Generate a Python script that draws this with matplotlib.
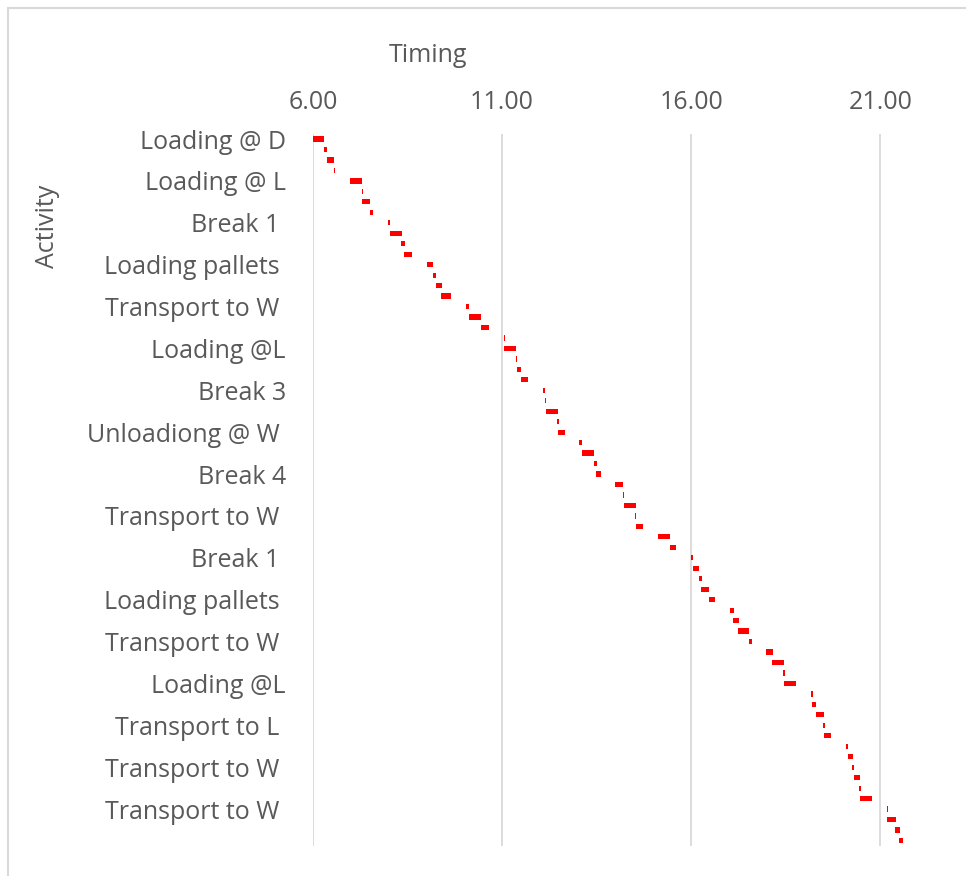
import matplotlib
matplotlib.use("Agg")
import matplotlib.pyplot as plt
from matplotlib.patches import Rectangle

# Start times (hours) and durations (hours) of each activity, top to bottom
starts = [6.01, 6.29, 6.37, 6.56, 6.99, 7.29, 7.31, 7.52, 7.99, 8.04,
          8.34, 8.42, 9.02, 9.17, 9.25, 9.39, 10.05, 10.13, 10.44, 11.04,
          11.06, 11.36, 11.40, 11.49, 12.09, 12.14, 12.16, 12.46, 12.49, 13.04,
          13.12, 13.43, 13.49, 13.99, 14.20, 14.22, 14.51, 14.53, 15.13, 15.43,
          15.99, 16.05, 16.20, 16.27, 16.47, 17.03, 17.10, 17.24, 17.52, 17.99,
          18.14, 18.43, 18.46, 19.17, 19.19, 19.30, 19.49, 19.51, 20.09, 20.14,
          20.26, 20.30, 20.44, 20.46, 21.18, 21.19, 21.39, 21.50]
durations = [0.28, 0.07, 0.20, 0.03, 0.31, 0.03, 0.21, 0.07, 0.06, 0.31,
             0.09, 0.21, 0.16, 0.09, 0.15, 0.27, 0.09, 0.31, 0.21, 0.035,
             0.30, 0.035, 0.11, 0.20, 0.05, 0.035, 0.31, 0.045, 0.17, 0.08,
             0.31, 0.07, 0.12, 0.22, 0.03, 0.31, 0.03, 0.20, 0.31, 0.17,
             0.06, 0.16, 0.09, 0.21, 0.17, 0.09, 0.16, 0.29, 0.09, 0.17,
             0.31, 0.045, 0.31, 0.045, 0.11, 0.20, 0.045, 0.19, 0.06, 0.13,
             0.045, 0.17, 0.045, 0.32, 0.03, 0.22, 0.12, 0.11]

# Labels shown on the category axis (every 4th activity)
shown_labels = ["Loading @ D", "Loading @ L", "Break 1 ", "Loading pallets ",
                "Transport to W ", "Loading @L", "Break 3", "Unloadiong @ W ",
                "Break 4", "Transport to W ", "Break 1 ", "Loading pallets ",
                "Transport to W ", "Loading @L", "Transport to L ",
                "Transport to W ", "Transport to W "]
label_step = 4

x_ticks = [6, 11, 16, 21]

W, H = 966, 876
fig = plt.figure(figsize=(W / 100, H / 100), dpi=100)
fig.patch.set_facecolor("white")
fig.patches.append(Rectangle((7.5 / W, -0.05), 1.2, 1 - 8.5 / H + 0.05,
                             transform=fig.transFigure, fill=False,
                             edgecolor="#d9d9d9", linewidth=1.5))

px_l, px_r, px_t, px_b = 312.9, 937.0, 133.8, 845.7
ax = fig.add_axes([px_l / W, 1 - px_b / H, (px_r - px_l) / W, (px_b - px_t) / H])

font = ["Open Sans", "DejaVu Sans"]
txt = "#595959"
fs = 18

ypos = list(range(len(starts)))
ax.barh(ypos, durations, left=starts, height=0.5, color="#ff0000", zorder=3)

ax.set_ylim(len(starts) - 0.5, -0.5)
ax.set_xlim(6, 22.5)

ax.set_xticks(x_ticks)
ax.set_xticklabels([f"{v:.2f}" for v in x_ticks], fontsize=fs, color=txt, family=font)
ax.xaxis.tick_top()
ax.xaxis.set_label_position("top")
ax.tick_params(axis="x", length=0, pad=13.5)

ax.set_yticks(ypos[::label_step])
ax.set_yticklabels(shown_labels, fontsize=fs, color=txt, family=font)
ax.tick_params(axis="y", length=0, pad=19.4)

ax.grid(axis="x", color="#d9d9d9", linewidth=1.3, zorder=0)
for s in ax.spines.values():
    s.set_visible(False)

def ax_x(px):
    return (px - px_l) / (px_r - px_l)

def ax_y(py):
    return (px_b - py) / (px_b - px_t)

ax.set_xlabel("Timing", fontsize=fs, color=txt, family=font)
ax.xaxis.set_label_coords(ax_x(428), ax_y(55))
ax.xaxis.label.set_va("center")
ax.set_ylabel("Activity", fontsize=fs, color=txt, family=font)
ax.yaxis.set_label_coords(ax_x(48), ax_y(226))
ax.yaxis.label.set_va("center")

fig.savefig("out.png", dpi=100, facecolor="white")
